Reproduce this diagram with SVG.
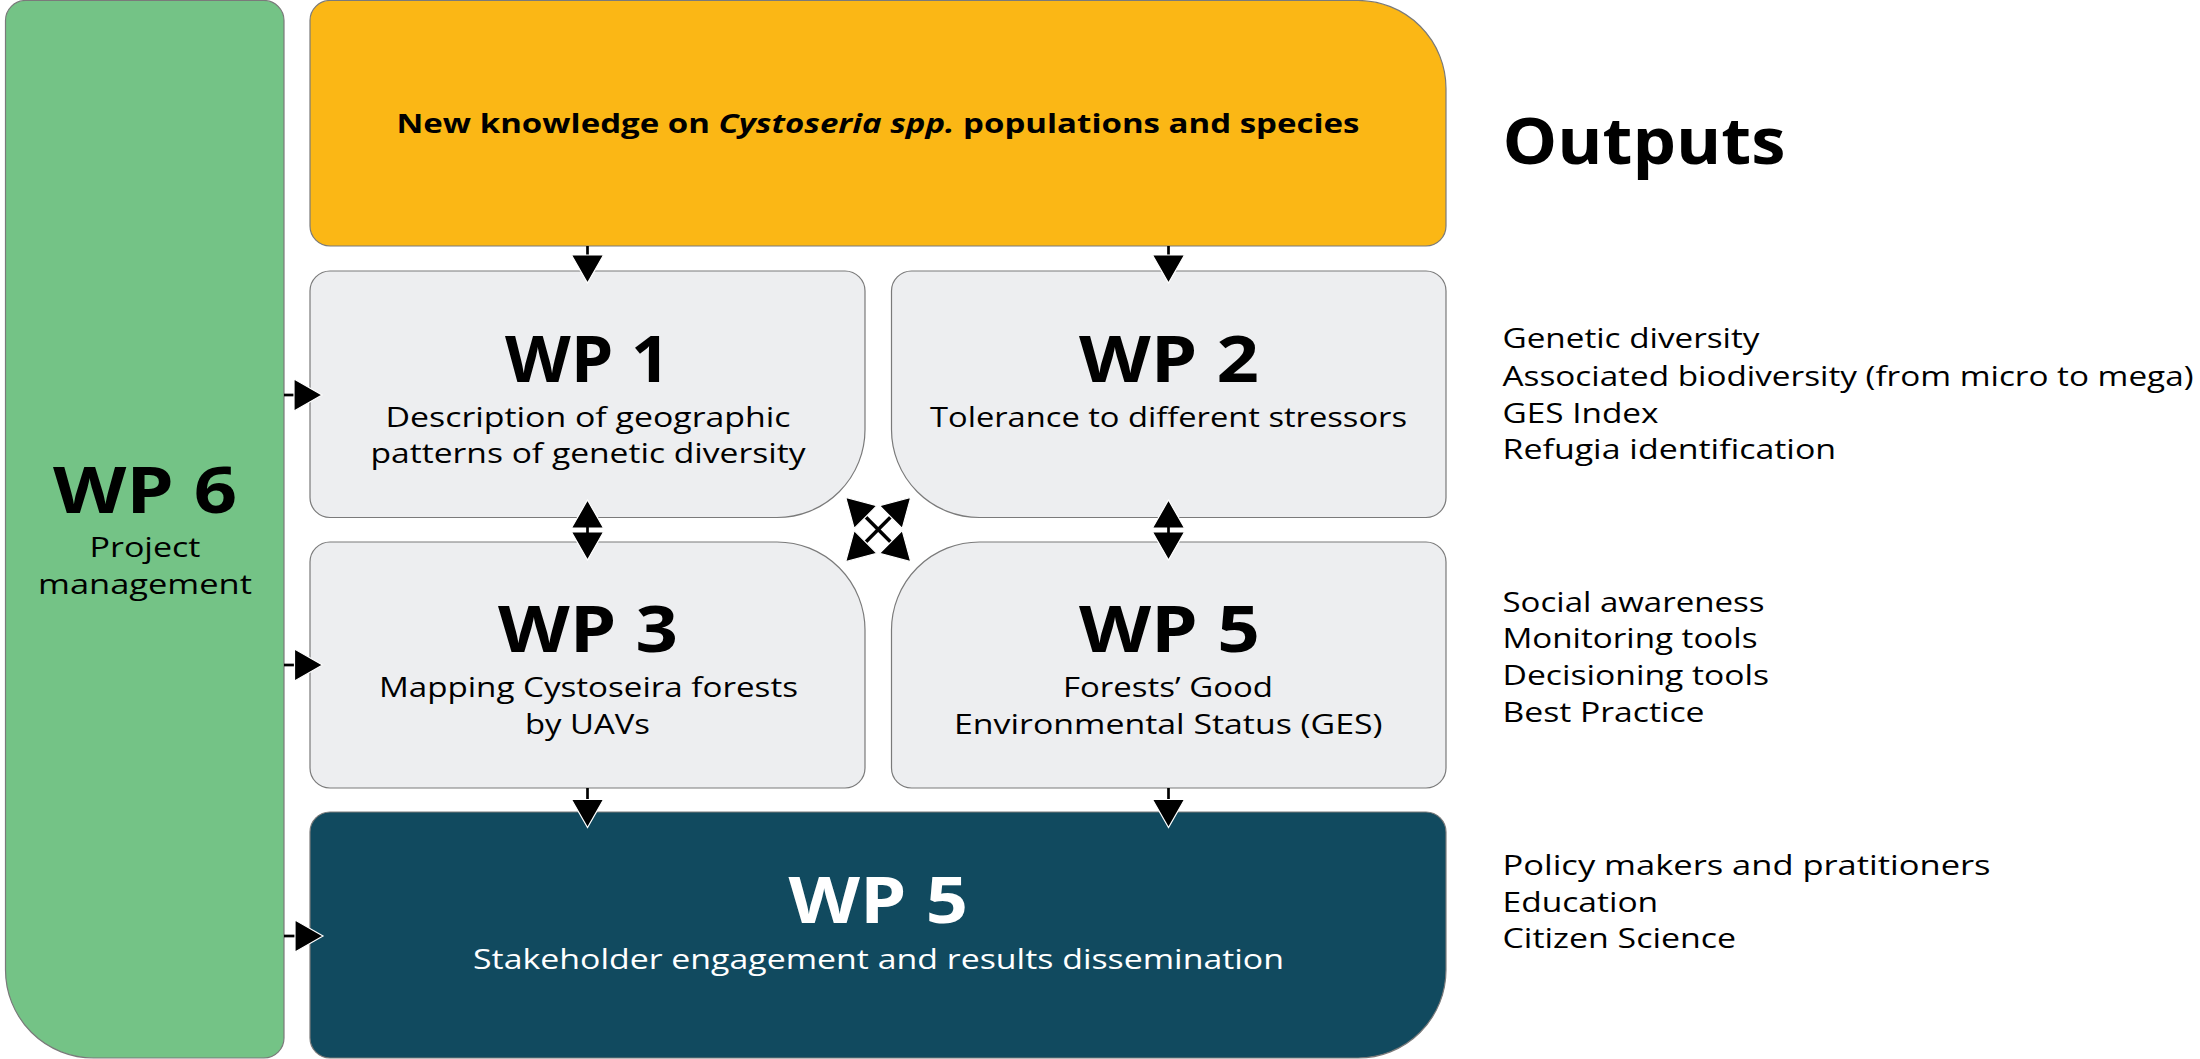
<svg xmlns="http://www.w3.org/2000/svg" xmlns:xlink="http://www.w3.org/1999/xlink" width="2200" height="1059" viewBox="0 0 2200 1059">
  <style>
    .box { stroke: #7a7a7a; stroke-width: 1.2; }
    .green { fill: #74C386; }
    .orange { fill: #FBB715; }
    .grey { fill: #EDEEF0; }
    .dark { fill: #114A5F; }
    text { font-family: "Open Sans", "Liberation Sans", sans-serif; fill: #000; }
    .title { font-size: 65px; font-weight: 700; text-anchor: middle; }
    .sub { font-size: 27px; font-weight: 400; text-anchor: middle; }
    .head { font-size: 27.5px; font-weight: 700; text-anchor: middle; }
    .out { font-size: 65px; font-weight: 700; }
    .item { font-size: 28px; font-weight: 400; }
    .white { fill: #fff; }
    .conn line { stroke: #000; stroke-width: 2.7; }
    .ah { fill: #000; stroke: #fff; stroke-width: 1.2; stroke-linejoin: miter; }
  </style>
  <defs>
    <path id="ah" class="ah" d="M0,0 L-16,-28 L16,-28 Z"/>
  </defs>

  <g id="wp6">
    <path class="box green" d="M25.5,0.5 H264 A20,20 0 0 1 284,20.5 V1038 A20,20 0 0 1 264,1058 H93.5 A88,88 0 0 1 5.5,970 V20.5 A20,20 0 0 1 25.5,0.5 Z"/>
    <text class="title" x="145" y="513" textLength="184" lengthAdjust="spacingAndGlyphs">WP 6</text>
    <text class="sub" x="145" y="557" textLength="111" lengthAdjust="spacingAndGlyphs">Project</text>
    <text class="sub" x="145" y="594" textLength="214" lengthAdjust="spacingAndGlyphs">management</text>
  </g>

  <g id="knowledge">
    <path class="box orange" d="M330,0.5 H1358 A88,88 0 0 1 1446,88.5 V226 A20,20 0 0 1 1426,246 H330 A20,20 0 0 1 310,226 V20.5 A20,20 0 0 1 330,0.5 Z"/>
    <text class="head" x="878" y="133" textLength="963" lengthAdjust="spacingAndGlyphs">New knowledge on <tspan font-style="italic">Cystoseria spp.</tspan> populations and species</text>
  </g>

  <g id="wp1">
    <path class="box grey" d="M330,271 H845 A20,20 0 0 1 865,291 V429.5 A88,88 0 0 1 777,517.5 H330 A20,20 0 0 1 310,497.5 V291 A20,20 0 0 1 330,271 Z"/>
    <text class="title" x="587.5" y="382" textLength="165" lengthAdjust="spacingAndGlyphs">WP 1</text>
    <text class="sub" x="588" y="426.5" textLength="405" lengthAdjust="spacingAndGlyphs">Description of geographic</text>
    <text class="sub" x="588" y="463" textLength="435" lengthAdjust="spacingAndGlyphs">patterns of genetic diversity</text>
  </g>

  <g id="wp2">
    <path class="box grey" d="M911.5,271 H1426 A20,20 0 0 1 1446,291 V497.5 A20,20 0 0 1 1426,517.5 H979.5 A88,88 0 0 1 891.5,429.5 V291 A20,20 0 0 1 911.5,271 Z"/>
    <text class="title" x="1169" y="382" textLength="180" lengthAdjust="spacingAndGlyphs">WP 2</text>
    <text class="sub" x="1168.5" y="426.5" textLength="477" lengthAdjust="spacingAndGlyphs">Tolerance to different stressors</text>
  </g>

  <g id="wp3">
    <path class="box grey" d="M330,542 H777 A88,88 0 0 1 865,630 V768 A20,20 0 0 1 845,788 H330 A20,20 0 0 1 310,768 V562 A20,20 0 0 1 330,542 Z"/>
    <text class="title" x="588" y="652.3" textLength="180" lengthAdjust="spacingAndGlyphs">WP 3</text>
    <text class="sub" x="588.5" y="697" textLength="419" lengthAdjust="spacingAndGlyphs">Mapping Cystoseira forests</text>
    <text class="sub" x="587.5" y="734" textLength="125" lengthAdjust="spacingAndGlyphs">by UAVs</text>
  </g>

  <g id="wp5-ges">
    <path class="box grey" d="M979.5,542 H1426 A20,20 0 0 1 1446,562 V768 A20,20 0 0 1 1426,788 H911.5 A20,20 0 0 1 891.5,768 V630 A88,88 0 0 1 979.5,542 Z"/>
    <text class="title" x="1169.5" y="652.3" textLength="181" lengthAdjust="spacingAndGlyphs">WP 5</text>
    <text class="sub" x="1168" y="697" textLength="210" lengthAdjust="spacingAndGlyphs">Forests’ Good</text>
    <text class="sub" x="1168.3" y="734" textLength="428.6" lengthAdjust="spacingAndGlyphs">Environmental Status (GES)</text>
  </g>

  <g id="wp5-stakeholder">
    <path class="box dark" d="M330,812 H1426 A20,20 0 0 1 1446,832 V970 A88,88 0 0 1 1358,1058 H330 A20,20 0 0 1 310,1038 V832 A20,20 0 0 1 330,812 Z"/>
    <text class="title white" x="878.3" y="923" textLength="179.5" lengthAdjust="spacingAndGlyphs">WP 5</text>
    <text class="sub white" x="878.5" y="968.6" textLength="811" lengthAdjust="spacingAndGlyphs">Stakeholder engagement and results dissemination</text>
  </g>

  <g id="outputs">
    <text class="out" x="1502.5" y="163.5" textLength="283" lengthAdjust="spacingAndGlyphs">Outputs</text>
    <text class="item" x="1502.5" y="348" textLength="257" lengthAdjust="spacingAndGlyphs">Genetic diversity</text>
    <text class="item" x="1502.5" y="385.7" textLength="691" lengthAdjust="spacingAndGlyphs">Associated biodiversity (from micro to mega)</text>
    <text class="item" x="1502.5" y="422.7" textLength="156" lengthAdjust="spacingAndGlyphs">GES Index</text>
    <text class="item" x="1502.5" y="459" textLength="333.6" lengthAdjust="spacingAndGlyphs">Refugia identification</text>
    <text class="item" x="1502.5" y="611.7" textLength="262" lengthAdjust="spacingAndGlyphs">Social awareness</text>
    <text class="item" x="1502.5" y="648" textLength="255" lengthAdjust="spacingAndGlyphs">Monitoring tools</text>
    <text class="item" x="1502.5" y="685" textLength="266.6" lengthAdjust="spacingAndGlyphs">Decisioning tools</text>
    <text class="item" x="1502.5" y="721.7" textLength="202" lengthAdjust="spacingAndGlyphs">Best Practice</text>
    <text class="item" x="1502.5" y="875" textLength="488" lengthAdjust="spacingAndGlyphs">Policy makers and pratitioners</text>
    <text class="item" x="1502.5" y="911.7" textLength="155.7" lengthAdjust="spacingAndGlyphs">Education</text>
    <text class="item" x="1502.5" y="948" textLength="233.6" lengthAdjust="spacingAndGlyphs">Citizen Science</text>
  </g>

  <g id="connectors" class="conn">
    <!-- knowledge to WP1 / WP2 -->
    <line x1="587.5" y1="246" x2="587.5" y2="256"/>
    <use xlink:href="#ah" transform="translate(587.5,283)"/>
    <line x1="1168.5" y1="246" x2="1168.5" y2="256"/>
    <use xlink:href="#ah" transform="translate(1168.5,283)"/>
    <!-- WP1 <-> WP3 -->
    <use xlink:href="#ah" transform="translate(587.5,500) rotate(180)"/>
    <use xlink:href="#ah" transform="translate(587.5,560)"/>
    <line x1="587.5" y1="527" x2="587.5" y2="533"/>
    <!-- WP2 <-> WP5 -->
    <use xlink:href="#ah" transform="translate(1168.5,500) rotate(180)"/>
    <use xlink:href="#ah" transform="translate(1168.5,560)"/>
    <line x1="1168.5" y1="527" x2="1168.5" y2="533"/>
    <!-- WP3 / WP5 to stakeholder WP5 -->
    <line x1="587.5" y1="788" x2="587.5" y2="800"/>
    <use xlink:href="#ah" transform="translate(587.5,827.5)"/>
    <line x1="1168.5" y1="788" x2="1168.5" y2="800"/>
    <use xlink:href="#ah" transform="translate(1168.5,827.5)"/>
    <!-- WP6 to WP1, WP3, stakeholder WP5 -->
    <line x1="284" y1="395" x2="295" y2="395"/>
    <use xlink:href="#ah" transform="translate(322,395) rotate(-90)"/>
    <line x1="284" y1="665" x2="295" y2="665"/>
    <use xlink:href="#ah" transform="translate(322.5,665) rotate(-90)"/>
    <line x1="284" y1="936" x2="295" y2="936"/>
    <use xlink:href="#ah" transform="translate(323,936) rotate(-90)"/>
    <!-- diagonal cross arrows -->
    <line x1="864.5" y1="515.8" x2="891.9" y2="543.2" style="stroke-width:3.5"/>
    <line x1="891.9" y1="515.8" x2="864.5" y2="543.2" style="stroke-width:3.5"/>
    <use xlink:href="#ah" transform="translate(845.7,497.3) rotate(135)"/>
    <use xlink:href="#ah" transform="translate(910.7,497.3) rotate(-135)"/>
    <use xlink:href="#ah" transform="translate(845.7,561.7) rotate(45)"/>
    <use xlink:href="#ah" transform="translate(910.7,561.7) rotate(-45)"/>
  </g>
</svg>
